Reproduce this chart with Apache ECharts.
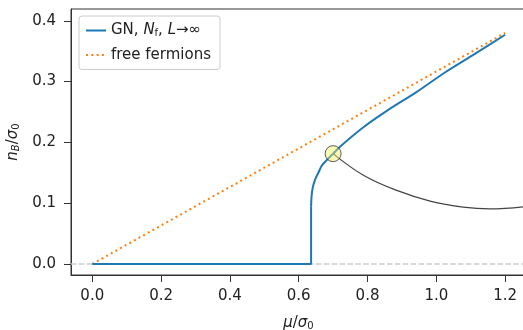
<!DOCTYPE html>
<html>
<head>
<meta charset="utf-8">
<script src="https://cdn.jsdelivr.net/npm/echarts@6/dist/echarts.min.js"></script>
<style>
  html, body { margin: 0; padding: 0; background: #fff; }
  #chart { width: 523px; height: 330px; }
</style>
</head>
<body>
<div id="chart"></div>
<script>
// values
const xTicks = [0, 0.2, 0.4, 0.6, 0.8, 1.0, 1.2];
const yTicks = [0, 0.1, 0.2, 0.3, 0.4];

// GN curve: flat part and jump, then the rising branch
const gnJump = [[0, 0], [0.636, 0], [0.636, 0.095]];
const gnRise = [
  [0.636, 0.095], [0.6375, 0.112], [0.6405, 0.1247],
  [0.647, 0.138], [0.657, 0.150], [0.6686, 0.163], [0.70, 0.1815],
  [0.72, 0.193], [0.788, 0.225], [0.855, 0.2515], [0.942, 0.2827],
  [1.025, 0.315], [1.112, 0.3455], [1.2, 0.377]
];
const freeFermions = [[0, 0], [1.2, 0.38]];
const branchCurve = [
  [0.70, 0.1815], [0.788, 0.146], [0.885, 0.121], [0.982, 0.1035],
  [1.078, 0.0935], [1.156, 0.0905], [1.26, 0.0945]
];
const transitionPoint = [[0.70, 0.1815]];

const font = "DejaVu Sans";
const chart = echarts.init(document.getElementById("chart"));

const rich = {
  t: { fontSize: 15, fontFamily: font, color: "#222" },
  i: { fontSize: 15, fontStyle: "italic", fontFamily: font, color: "#222" },
  si: { fontSize: 10, fontStyle: "italic", fontFamily: font, color: "#222", verticalAlign: "bottom", padding: [6, 0, 0, 0] },
  s: { fontSize: 10, fontFamily: font, color: "#222", verticalAlign: "bottom", padding: [6, 0, 0, 0] }
};

const gnStyle = { color: "#1f77b4", width: 2 };

const option = {
  animation: false,
  textStyle: { fontFamily: font },
  grid: {
    left: 71, top: 9, right: -3, bottom: 55,
    outerBoundsMode: "none",
    show: true, borderColor: "#333", borderWidth: 1
  },
  legend: {
    data: ["GN", "free fermions"],
    orient: "vertical",
    left: 79, top: 16,
    padding: [7, 9, 7, 6],
    itemGap: 9,
    itemWidth: 20,
    itemStyle: { opacity: 0 },
    backgroundColor: "#fff",
    borderColor: "#ccc",
    borderWidth: 1,
    borderRadius: 3,
    textStyle: { fontSize: 15, color: "#222", fontFamily: font, rich: rich },
    formatter: function (name) {
      if (name === "GN") return "{t|GN, }{i|N}{s|f}{t|, }{i|L}{t|→∞}";
      return "{t|" + name + "}";
    }
  },
  xAxis: {
    type: "value",
    min: -0.0619, max: 1.2607,
    name: "{i|μ}{t|/}{i|σ}{s|0}",
    nameLocation: "middle",
    nameGap: 40,
    nameTextStyle: { rich: rich },
    splitLine: { show: false },
    axisLine: { show: true, onZero: false, lineStyle: { color: "#333", width: 1 } },
    axisTick: { show: true, length: 7, lineStyle: { color: "#333" }, customValues: xTicks },
    axisLabel: {
      customValues: xTicks, fontSize: 15, color: "#222", margin: 14,
      formatter: v => v.toFixed(1)
    }
  },
  yAxis: {
    type: "value",
    min: -0.0181, max: 0.4194,
    name: "{i|n}{si|B}{t|/}{i|σ}{s|0}",
    nameLocation: "middle",
    nameGap: 48,
    nameRotate: 90,
    nameTextStyle: { rich: rich },
    splitLine: { show: false },
    axisLine: { show: true, onZero: false, lineStyle: { color: "#333", width: 1 } },
    axisTick: { show: true, length: 7, lineStyle: { color: "#333" }, customValues: yTicks },
    axisLabel: {
      customValues: yTicks, fontSize: 15, color: "#222", margin: 15,
      formatter: v => v.toFixed(1)
    }
  },
  series: [
    {
      name: "zero",
      type: "line",
      data: [],
      z: 1,
      markLine: {
        silent: true,
        symbol: "none",
        label: { show: false },
        lineStyle: { color: "#cccccc", width: 1.5, type: [5.5, 2.4] },
        data: [{ yAxis: 0 }]
      }
    },
    {
      name: "free fermions",
      type: "line",
      data: freeFermions,
      showSymbol: false,
      symbol: "none",
      z: 3,
      color: "#ff7f0e",
      lineStyle: { color: "#ff7f0e", width: 2, type: [2, 3.3], cap: "butt" }
    },
    {
      name: "branch",
      type: "line",
      data: branchCurve,
      smooth: 0.4,
      showSymbol: false,
      symbol: "none",
      z: 4,
      lineStyle: { color: "#444", width: 1.2 }
    },
    {
      name: "GN",
      type: "line",
      data: gnJump,
      showSymbol: false,
      symbol: "none",
      z: 5,
      color: "#1f77b4",
      lineStyle: gnStyle
    },
    {
      name: "GN",
      type: "line",
      data: gnRise,
      smooth: 0.3,
      showSymbol: false,
      symbol: "none",
      z: 5,
      color: "#1f77b4",
      lineStyle: gnStyle
    },
    {
      name: "point",
      type: "scatter",
      data: transitionPoint,
      symbolSize: 16,
      z: 6,
      itemStyle: { color: "rgba(240,238,90,0.55)", borderColor: "#333", borderWidth: 1 }
    }
  ]
};

chart.setOption(option);
</script>
</body>
</html>
